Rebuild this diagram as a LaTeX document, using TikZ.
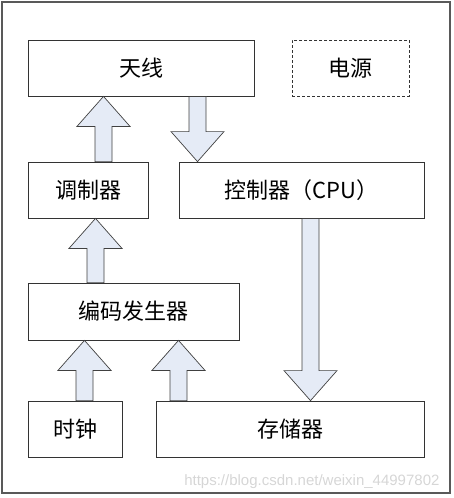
\documentclass[tikz,border=0pt]{standalone}
\usepackage{fontspec}
\usepackage{tikz}
\usetikzlibrary{calc}
\setmainfont{Noto Sans CJK SC}
\newfontfamily\webfont{Liberation Sans}
\definecolor{arrowfill}{RGB}{229,235,246}
\newcommand{\fatarrow}[3]{%
  \draw [fat] let \p1=(#2), \p2=(#3), \p3=(#1,0),
    \n1={\y2+ifthenelse(\y2>\y1,-30,30)} in
    (\x3-8.5pt,\y1) -- (\x3-8.5pt,\n1) -- (\x3-26.5pt,\n1) -- (\x3,\y2)
    -- (\x3+26.5pt,\n1) -- (\x3+8.5pt,\n1) -- (\x3+8.5pt,\y1) -- cycle;}
\begin{document}
\begin{tikzpicture}[x=1pt, y=-1pt,
    box/.style={draw=black!80, line width=0.8pt, inner sep=0pt,
      minimum height=56pt, font=\fontsize{22}{22}\selectfont},
    fat/.style={draw=black!75, line width=0.7pt, fill=arrowfill}]
  \useasboundingbox (0,0) rectangle (453,498);
  \draw [black!65, line width=1.2pt] (2,2) rectangle (450,493);
  \node [box, minimum width=226pt] (tianxian) at (141,68) {天线};
  \node [box, dash pattern=on 3pt off 2pt, minimum width=117pt] (dianyuan) at (350.5,68) {电源};
  \node [box, minimum width=120pt] (tiaozhi) at (88,190) {调制器};
  \node [box, minimum width=245pt] (cpu) at (301.5,190) {控制器（CPU）};
  \node [box, minimum width=211pt, minimum height=57pt] (bianma) at (133.5,311.5) {编码发生器};
  \node [box, minimum width=94pt] (shizhong) at (75,429) {时钟};
  \node [box, minimum width=268pt] (cunchu) at (290,429) {存储器};
  \fatarrow{103.5}{tiaozhi.north}{tianxian.south}
  \fatarrow{197.5}{tianxian.south}{cpu.north}
  \fatarrow{95.5}{bianma.north}{tiaozhi.south}
  \fatarrow{310.5}{cpu.south}{cunchu.north}
  \fatarrow{84.5}{shizhong.north}{bianma.south}
  \fatarrow{178.5}{cunchu.north}{bianma.south}
  \node [anchor=east, text=black!16, font=\webfont\fontsize{15}{15}\selectfont]
    (mark) at (443,482) {https://blog.csdn.net/weixin\_44997802};
\end{tikzpicture}
\end{document}
